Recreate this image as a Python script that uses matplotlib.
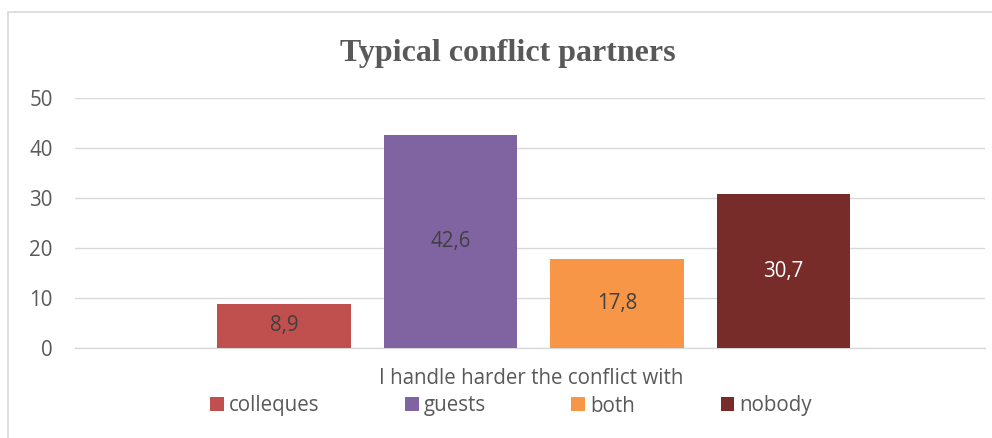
import matplotlib
matplotlib.use("Agg")
import matplotlib.pyplot as plt
from matplotlib.patches import Rectangle, Patch

SANS = ["Open Sans", "DejaVu Sans"]
FS = 14.8

categories = ["colleques", "guests", "both", "nobody"]
values = [8.9, 42.6, 17.8, 30.7]
labels = ["8,9", "42,6", "17,8", "30,7"]
colors = ["#C0504D", "#8064A2", "#F79646", "#772C2A"]
label_colors = ["#404040", "#404040", "#404040", "#FFFFFF"]
yticks = [0, 10, 20, 30, 40, 50]
title = "Typical conflict partners"
xlabel = "I handle harder the conflict with"

W, H = 992, 438
fig = plt.figure(figsize=(W / 100, H / 100), dpi=100)
fig.patch.set_facecolor("white")

fig.patches.append(Rectangle((8 / W, -0.1), 1.2, 1 - 12 / H + 0.1, transform=fig.transFigure,
                             fill=False, edgecolor="#D9D9D9", linewidth=1.2))

ax = fig.add_axes([75 / W, 1 - 348 / H, (985 - 75) / W, (348 - 98) / H])
ax.set_facecolor("none")
xs = list(range(len(categories)))
ax.bar(xs, values, width=0.8, color=colors, zorder=3)
for x, v, lab, c in zip(xs, values, labels, label_colors):
    ax.text(x, v / 2, lab, ha="center", va="center", color=c, fontsize=FS,
            family=SANS, zorder=4)

ax.set_xlim(-1.255, 4.21)
ax.set_ylim(0, 50)
ax.set_yticks(yticks)
ax.set_yticklabels([str(t) for t in yticks], fontsize=FS, color="#595959", family=SANS)
ax.set_xticks([])
ax.tick_params(axis="y", length=0, pad=16)
ax.grid(axis="y", color="#D9D9D9", linewidth=1, zorder=0)
for s in ["top", "right", "left"]:
    ax.spines[s].set_visible(False)
ax.spines["bottom"].set_color("#D9D9D9")
ax.spines["bottom"].set_linewidth(1)

fig.text(508 / W, 1 - 53 / H, title, ha="center", va="center", fontsize=23, fontweight="bold",
         family="Liberation Serif", color="#595959")
fig.text(531 / W, 1 - 378 / H, xlabel, ha="center", va="center", fontsize=FS,
         family=SANS, color="#595959")

handles = [Patch(facecolor=c, edgecolor="none") for c in colors]
leg = fig.legend(handles, categories, loc="center", bbox_to_anchor=(511 / W, 1 - 406 / H),
                 ncol=4, frameon=False, handlelength=0.68, handleheight=0.68,
                 handletextpad=0.25, columnspacing=4.15, borderpad=0,
                 prop={"family": SANS, "size": FS})
for t in leg.get_texts():
    t.set_color("#595959")

fig.savefig("out.png", dpi=100, facecolor="white")
